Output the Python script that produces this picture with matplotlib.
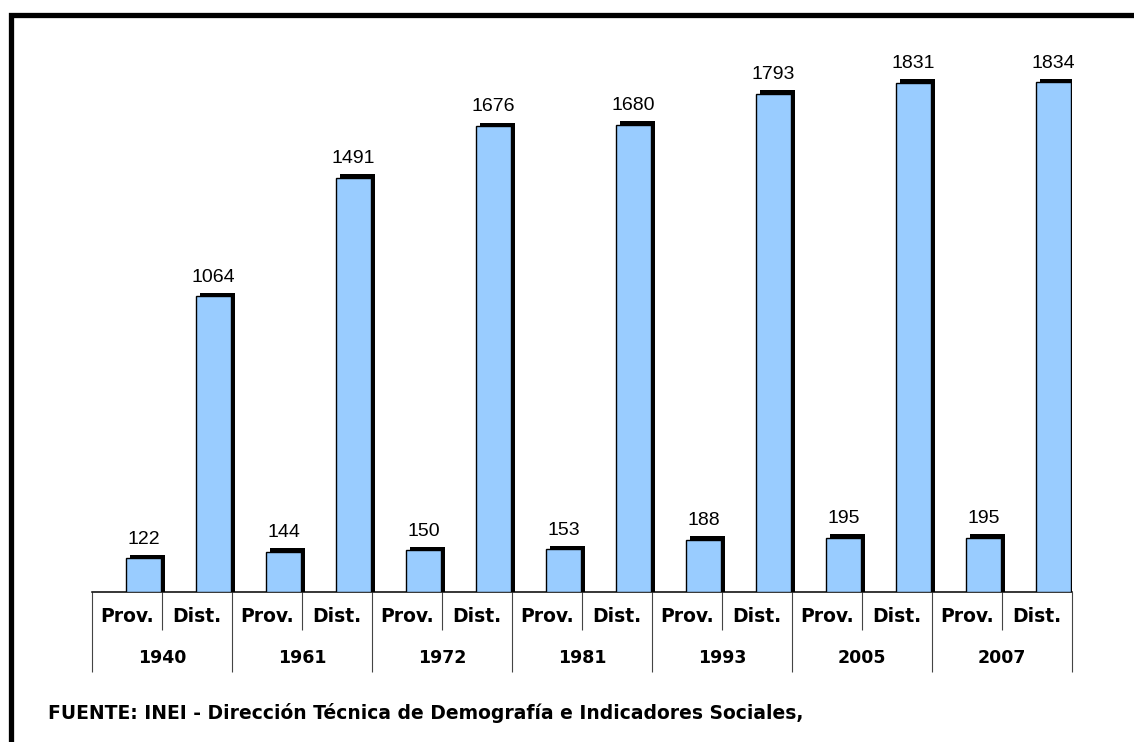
import numpy as np
import matplotlib
matplotlib.use("Agg")
import matplotlib.pyplot as plt
from matplotlib.patches import Rectangle

# datos
anios = ["1940", "1961", "1972", "1981", "1993", "2005", "2007"]
tipos = ["Prov.", "Dist."]
provincias = [122, 144, 150, 153, 188, 195, 195]
distritos = [1064, 1491, 1676, 1680, 1793, 1831, 1834]
fuente = "FUENTE: INEI - Dirección Técnica de Demografía e Indicadores Sociales,"

W, H = 1134, 742
fig = plt.figure(figsize=(W / 100, H / 100), dpi=100)
fig.patch.set_facecolor("white")

# area del grafico en pixeles de la figura
x0, x1 = 92, 1072
base = 592
ymax = 2000
escala = 0.278  # px por unidad
ax = fig.add_axes([x0 / W, (H - base) / H, (x1 - x0) / W, ymax * escala / H])

# valores intercalados: Prov, Dist, Prov, Dist...
valores = []
for p, d in zip(provincias, distritos):
    valores += [p, d]
valores = np.array(valores)
pos = np.arange(len(valores))

ancho = 0.49
izq = pos + 0.49
# sombra negra (arriba / derecha)
dx = 4 / 70
dy = 3.5 / escala
ax.bar(izq + dx, valores + dy, width=ancho, align="edge", color="black", zorder=2)
ax.bar(izq, valores, width=ancho, align="edge", color="#99CCFF",
       edgecolor="black", linewidth=1.0, zorder=3)

for xi, v in zip(izq + ancho / 2, valores):
    ax.annotate(str(v), (xi, v), xytext=(0, 10.5), textcoords="offset points",
                ha="center", va="baseline", fontsize=14, family="Liberation Sans")

ax.set_xlim(0, len(valores))
ax.set_ylim(0, ymax)
for s in ["top", "right", "left"]:
    ax.spines[s].set_visible(False)
ax.spines["bottom"].set_color("black")
ax.spines["bottom"].set_linewidth(1.1)
ax.set_yticks([])

# lineas de categorias
ax.set_xticks(np.arange(0, len(valores) + 1, 2))
ax.set_xticks(np.arange(1, len(valores), 2), minor=True)
ax.tick_params(axis="x", which="major", direction="out", length=57.6, width=0.8,
               color="#444444", labelbottom=False)
ax.tick_params(axis="x", which="minor", direction="out", length=27.4, width=0.8,
               color="#444444", labelbottom=False)

alto_ax = ymax * escala
tr = ax.get_xaxis_transform()
for i in range(len(valores)):
    ax.text(i + 0.5, -(617 - base) / alto_ax, tipos[i % 2], transform=tr,
            ha="center", va="center", fontsize=13.5, fontweight="bold",
            family="DejaVu Sans")
for k, a in enumerate(anios):
    ax.text(2 * k + 1, -(658 - base) / alto_ax, a, transform=tr,
            ha="center", va="center", fontsize=12.5, fontweight="bold",
            family="DejaVu Sans")

fig.text(48 / W, (H - 713) / H, fuente, ha="left", va="center", fontsize=13.5,
         fontweight="bold", family="DejaVu Sans")

# marco
fig.patches.append(Rectangle((11 / W, -0.1), 1.2, (H - 14.5) / H + 0.1,
                             transform=fig.transFigure, fill=False,
                             edgecolor="black", linewidth=3.8))

fig.savefig("out.png", dpi=100, facecolor="white")
